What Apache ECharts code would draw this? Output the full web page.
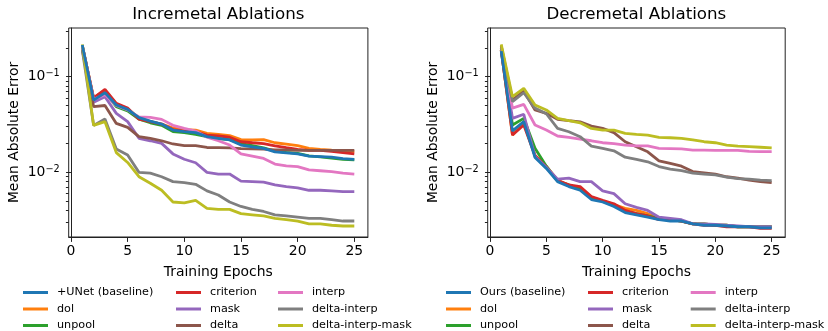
<!DOCTYPE html>
<html>
<head>
<meta charset="utf-8">
<title>Ablations</title>
<script src="https://cdn.jsdelivr.net/npm/echarts@6/dist/echarts.min.js"></script>
<style>
  html, body { margin: 0; padding: 0; background: #fff; }
  #chart { width: 828px; height: 331px; }
</style>
</head>
<body>
<div id="chart"></div>
<script>
const epochs = [1, 2, 3, 4, 5, 6, 7, 8, 9, 10, 11, 12, 13, 14, 15, 16, 17, 18, 19, 20, 21, 22, 23, 24, 25]
const xTicks = [0, 5, 10, 15, 20, 25]
const yMajor = [0.01, 0.1]
const yMinor = [0.003, 0.004, 0.005, 0.006, 0.007, 0.008, 0.009, 0.02, 0.03, 0.04, 0.05, 0.06, 0.07, 0.08, 0.09, 0.2, 0.3]

// Incremetal Ablations
const incBaseline = [0.215, 0.057, 0.068, 0.0506, 0.0456, 0.0373, 0.0344, 0.032, 0.0277, 0.0266, 0.026, 0.0236, 0.0227, 0.0218, 0.0193, 0.0185, 0.0178, 0.0164, 0.016, 0.0156, 0.0148, 0.0146, 0.0144, 0.0139, 0.0137]
const incDol = [0.21, 0.06, 0.072, 0.052, 0.046, 0.037, 0.034, 0.032, 0.029, 0.028, 0.0277, 0.0256, 0.0249, 0.0242, 0.022, 0.0218, 0.022, 0.0204, 0.0197, 0.019, 0.0178, 0.0174, 0.0171, 0.0169, 0.0165]
const incUnpool = [0.21, 0.058, 0.068, 0.0486, 0.044, 0.036, 0.033, 0.031, 0.0267, 0.026, 0.025, 0.0236, 0.0225, 0.022, 0.02, 0.019, 0.018, 0.0167, 0.0162, 0.0158, 0.0149, 0.0145, 0.0141, 0.0137, 0.0135]
const incCriterion = [0.21, 0.06, 0.0738, 0.0527, 0.047, 0.036, 0.034, 0.032, 0.028, 0.027, 0.0265, 0.0245, 0.024, 0.0233, 0.0209, 0.0204, 0.02, 0.0189, 0.0181, 0.0174, 0.017, 0.017, 0.0166, 0.0161, 0.0156]
const incMask = [0.2, 0.054, 0.0618, 0.0414, 0.0339, 0.0227, 0.0214, 0.0201, 0.0156, 0.0137, 0.0126, 0.01, 0.0096, 0.0096, 0.0081, 0.008, 0.0079, 0.0074, 0.0071, 0.0069, 0.0065, 0.0065, 0.0064, 0.0063, 0.0063]
const incDelta = [0.19, 0.0486, 0.05, 0.0325, 0.0295, 0.0236, 0.0226, 0.0214, 0.0198, 0.019, 0.019, 0.0182, 0.0181, 0.018, 0.0177, 0.0176, 0.0175, 0.0172, 0.0172, 0.017, 0.017, 0.017, 0.017, 0.017, 0.017]
const incInterp = [0.21, 0.058, 0.065, 0.05, 0.045, 0.038, 0.0375, 0.0358, 0.031, 0.0288, 0.027, 0.0233, 0.0214, 0.0193, 0.0156, 0.0148, 0.014, 0.0122, 0.0117, 0.0115, 0.0106, 0.0104, 0.0102, 0.0098, 0.0096]
const incDeltaInterp = [0.19, 0.031, 0.0361, 0.0175, 0.0152, 0.01, 0.0098, 0.009, 0.008, 0.0078, 0.0075, 0.0064, 0.0058, 0.0049, 0.0044, 0.0041, 0.0039, 0.0036, 0.0035, 0.0034, 0.0033, 0.0033, 0.0032, 0.0031, 0.0031]
const incDeltaInterpMask = [0.218, 0.031, 0.0339, 0.0161, 0.0127, 0.009, 0.0077, 0.0065, 0.0049, 0.0048, 0.0051, 0.0042, 0.0041, 0.0041, 0.0037, 0.0036, 0.0035, 0.0033, 0.0032, 0.0031, 0.0029, 0.0029, 0.0028, 0.00275, 0.00275]

// Decremetal Ablations
const decBaseline = [0.185, 0.0271, 0.0339, 0.0143, 0.011, 0.008, 0.0071, 0.0065, 0.0052, 0.0049, 0.0044, 0.0038, 0.0036, 0.0034, 0.0032, 0.0031, 0.0031, 0.0029, 0.0028, 0.0028, 0.00275, 0.0027, 0.0027, 0.00263, 0.00263]
const decDol = [0.19, 0.0245, 0.033, 0.015, 0.0116, 0.0083, 0.0073, 0.0068, 0.0055, 0.005, 0.0046, 0.0042, 0.004, 0.0037, 0.0033, 0.0032, 0.0031, 0.0029, 0.0029, 0.0028, 0.0028, 0.0027, 0.0027, 0.0027, 0.0027]
const decUnpool = [0.19, 0.0313, 0.0367, 0.0179, 0.0116, 0.0081, 0.0074, 0.0067, 0.0054, 0.005, 0.0045, 0.0039, 0.0037, 0.0035, 0.0033, 0.0032, 0.0031, 0.0029, 0.0029, 0.0028, 0.0028, 0.0027, 0.0027, 0.0027, 0.0027]
const decCriterion = [0.19, 0.0246, 0.0313, 0.015, 0.0113, 0.0082, 0.0074, 0.0071, 0.0056, 0.0051, 0.0047, 0.004, 0.0037, 0.0035, 0.0032, 0.0032, 0.0031, 0.0029, 0.0028, 0.0028, 0.0027, 0.0027, 0.0027, 0.0026, 0.0026]
const decMask = [0.19, 0.0367, 0.0405, 0.0146, 0.0113, 0.0085, 0.0087, 0.008, 0.008, 0.0064, 0.006, 0.0047, 0.0043, 0.004, 0.0034, 0.0033, 0.0032, 0.0029, 0.0029, 0.00286, 0.0028, 0.00275, 0.0027, 0.0027, 0.0027]
const decDelta = [0.21, 0.057, 0.071, 0.0449, 0.0414, 0.0358, 0.0347, 0.0338, 0.0305, 0.0288, 0.026, 0.0209, 0.0185, 0.0164, 0.0132, 0.0124, 0.0116, 0.0102, 0.0099, 0.0096, 0.009, 0.0087, 0.0083, 0.008, 0.0078]
const decInterp = [0.2, 0.047, 0.0514, 0.0313, 0.0277, 0.024, 0.0232, 0.0222, 0.0214, 0.0204, 0.02, 0.0193, 0.0189, 0.0189, 0.0178, 0.0177, 0.0176, 0.0171, 0.0171, 0.017, 0.017, 0.017, 0.0166, 0.0165, 0.0165]
const decDeltaInterp = [0.2, 0.055, 0.068, 0.047, 0.041, 0.0288, 0.0266, 0.0236, 0.0188, 0.0178, 0.0168, 0.0144, 0.0137, 0.0129, 0.0115, 0.0108, 0.0104, 0.0098, 0.0096, 0.0094, 0.0089, 0.0086, 0.0085, 0.0083, 0.0082]
const decDeltaInterpMask = [0.218, 0.0618, 0.0757, 0.0506, 0.0449, 0.0366, 0.0347, 0.033, 0.0288, 0.0277, 0.0277, 0.0256, 0.0249, 0.0245, 0.0232, 0.023, 0.0227, 0.0218, 0.0209, 0.0204, 0.0193, 0.0188, 0.0186, 0.0183, 0.018]

const names = ['dol', 'unpool', 'criterion', 'mask', 'delta', 'interp', 'delta-interp', 'delta-interp-mask']
const colors = ['#ff7f0e', '#2ca02c', '#d62728', '#9467bd', '#8c564b', '#e377c2', '#7f7f7f', '#bcbd22']
const baseColor = '#1f77b4'

const font = 'DejaVu Sans'
const axisColor = '#222'

function makeSeries(idx, baseName, base, others) {
  const list = others.map((vals, i) => ({
    name: names[i],
    type: 'line',
    xAxisIndex: idx,
    yAxisIndex: idx * 2,
    symbol: 'none',
    data: epochs.map((e, j) => [e, vals[j]]),
    itemStyle: { color: colors[i] },
    lineStyle: { color: colors[i], width: 2.8 }
  }))
  // baseline is drawn on top
  list.push({
    name: baseName,
    type: 'line',
    xAxisIndex: idx,
    yAxisIndex: idx * 2,
    symbol: 'none',
    data: epochs.map((e, j) => [e, base[j]]),
    itemStyle: { color: baseColor },
    lineStyle: { color: baseColor, width: 2.8 }
  })
  return list
}

function xAxis(idx) {
  return {
    type: 'value',
    gridIndex: idx,
    min: -0.2,
    max: 26.2,
    name: 'Training Epochs',
    nameLocation: 'middle',
    nameGap: 28,
    nameTextStyle: { fontFamily: font, fontSize: 13.9, color: '#000' },
    splitLine: { show: false },
    axisLine: { lineStyle: { color: axisColor, width: 1 } },
    axisTick: { customValues: xTicks, length: 4.9, lineStyle: { color: axisColor } },
    axisLabel: { customValues: xTicks, margin: 7, fontFamily: font, fontSize: 13.9, color: '#000' }
  }
}

function yAxes(idx) {
  return [{
    type: 'log',
    gridIndex: idx,
    position: 'left',
    logBase: 10,
    min: 0.00211,
    max: 0.323,
    name: 'Mean Absolute Error',
    nameLocation: 'middle',
    nameGap: 47,
    nameTextStyle: { fontFamily: font, fontSize: 13.9, color: '#000' },
    splitLine: { show: false },
    axisLine: { show: true, lineStyle: { color: axisColor, width: 1 } },
    axisTick: { customValues: yMajor, length: 4.9, lineStyle: { color: axisColor } },
    axisLabel: {
      customValues: yMajor,
      margin: 9,
      formatter: v => '{b|10}{s|−' + Math.round(-Math.log10(v)) + '}',
      rich: {
        b: { fontFamily: font, fontSize: 13.9, color: '#000', lineHeight: 16 },
        s: { fontFamily: font, fontSize: 9.7, color: '#000', verticalAlign: 'top', lineHeight: 10 }
      }
    }
  }, {
    type: 'log',
    gridIndex: idx,
    position: 'left',
    logBase: 10,
    min: 0.00211,
    max: 0.323,
    splitLine: { show: false },
    axisLine: { show: false },
    axisTick: { customValues: yMinor, length: 2.8, lineStyle: { color: axisColor } },
    axisLabel: { show: false }
  }]
}

function legendCol(left, items) {
  return {
    orient: 'vertical',
    left: left,
    top: 285.5,
    height: 60,
    padding: 0,
    itemGap: 2.5,
    itemWidth: 25,
    itemHeight: 3,
    icon: 'rect',
    selectedMode: false,
    itemStyle: { borderWidth: 0 },
    textStyle: { fontFamily: font, fontSize: 11.2, color: '#000', lineHeight: 14, padding: [0, 0, 0, 4] },
    data: items
  }
}

const chart = echarts.init(document.getElementById('chart'))
chart.setOption({
  animation: false,
  backgroundColor: '#fff',
  title: [
    { text: 'Incremetal Ablations', left: 218.3, top: 6, textAlign: 'center', padding: 0,
      textStyle: { fontFamily: font, fontSize: 16.7, fontWeight: 'normal', color: '#000' } },
    { text: 'Decremetal Ablations', left: 636.4, top: 6, textAlign: 'center', padding: 0,
      textStyle: { fontFamily: font, fontSize: 16.7, fontWeight: 'normal', color: '#000' } }
  ],
  grid: [
    { left: 68.7, top: 28, width: 299.2, height: 209, show: true, borderColor: axisColor, borderWidth: 1 },
    { left: 487.7, top: 28, width: 297.5, height: 209, show: true, borderColor: axisColor, borderWidth: 1 }
  ],
  xAxis: [xAxis(0), xAxis(1)],
  yAxis: yAxes(0).concat(yAxes(1)),
  legend: [
    legendCol(23, ['+UNet (baseline)', 'dol', 'unpool']),
    legendCol(176, ['criterion', 'mask', 'delta']),
    legendCol(278, ['interp', 'delta-interp', 'delta-interp-mask']),
    legendCol(446, ['Ours (baseline)', 'dol', 'unpool']),
    legendCol(588, ['criterion', 'mask', 'delta']),
    legendCol(690.7, ['interp', 'delta-interp', 'delta-interp-mask'])
  ],
  series: makeSeries(0, '+UNet (baseline)', incBaseline,
    [incDol, incUnpool, incCriterion, incMask, incDelta, incInterp, incDeltaInterp, incDeltaInterpMask])
    .concat(makeSeries(1, 'Ours (baseline)', decBaseline,
      [decDol, decUnpool, decCriterion, decMask, decDelta, decInterp, decDeltaInterp, decDeltaInterpMask]))
})
</script>
</body>
</html>
